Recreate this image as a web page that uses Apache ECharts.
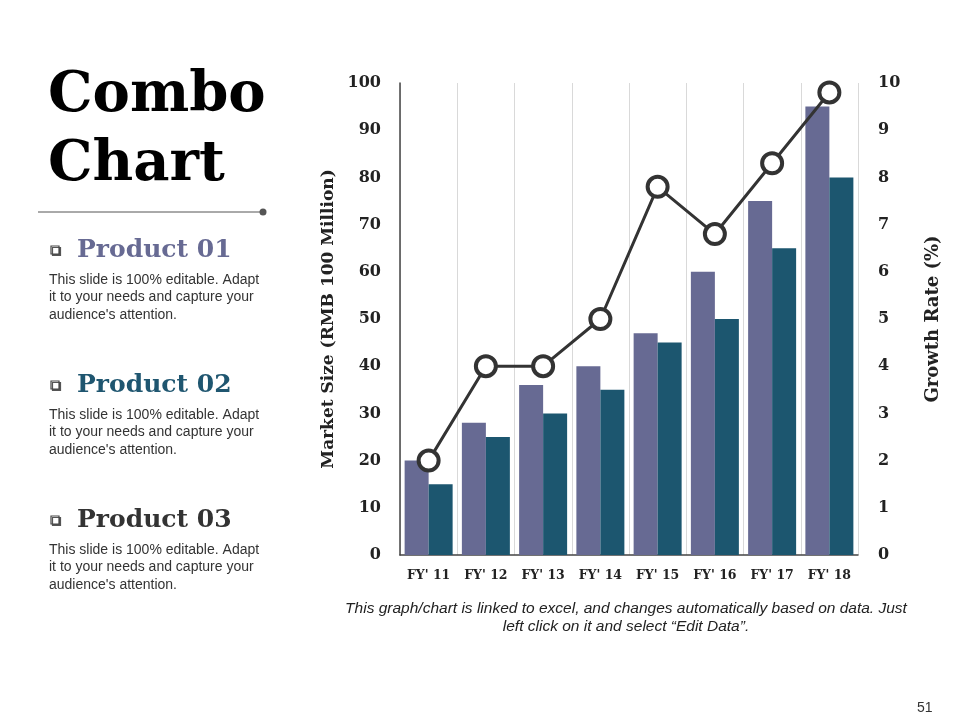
<!DOCTYPE html>
<html>
<head>
<meta charset="utf-8">
<script src="https://cdn.jsdelivr.net/npm/echarts@6/dist/echarts.min.js"></script>
<style>
  html, body { margin: 0; padding: 0; background: #fff; }
  #chart { width: 960px; height: 720px; }
</style>
</head>
<body>
<div id="chart"></div>
<script>
var categories = ["FY' 11", "FY' 12", "FY' 13", "FY' 14", "FY' 15", "FY' 16", "FY' 17", "FY' 18"];
var product01 = [20, 28, 36, 40, 47, 60, 75, 95];
var product02 = [15, 25, 30, 35, 45, 50, 65, 80];
var growthRate = [2, 4, 4, 5, 7.8, 6.8, 8.3, 9.8];

var serif = 'DejaVu Serif';
var sans = 'Liberation Sans';
var body = 'This slide is 100% editable. Adapt\nit to your needs and capture your\naudience\'s attention.';

function productBlock(y, title, color) {
  return [
    {
      type: 'rect', x: 51, y: y - 4, shape: { width: 8, height: 8 },
      style: { fill: '#fff', stroke: '#444', lineWidth: 1.2, shadowColor: '#555', shadowOffsetX: 1.5, shadowOffsetY: 1.5 }
    },
    {
      type: 'text', x: 77, y: y,
      style: { text: title, font: 'bold 25px ' + serif, fill: color, verticalAlign: 'middle' }
    },
    {
      type: 'text', x: 49, y: y + 21,
      style: { text: body, font: '14px ' + sans, fill: '#333', lineHeight: 17.5 }
    }
  ];
}

var myChart = echarts.init(document.getElementById('chart'));
var option = {
  backgroundColor: '#fff',
  animation: false,
  grid: { left: 400, right: 102, top: 83, bottom: 165 },
  graphic: [
    { type: 'text', x: 48, y: 124, style: { text: 'Combo', font: 'bold 56px ' + serif, fill: '#000', verticalAlign: 'bottom' } },
    { type: 'text', x: 48, y: 193, style: { text: 'Chart', font: 'bold 56px ' + serif, fill: '#000', verticalAlign: 'bottom' } },
    { type: 'line', shape: { x1: 38, y1: 212, x2: 262, y2: 212 }, style: { stroke: '#555', lineWidth: 1 } },
    { type: 'circle', shape: { cx: 263, cy: 212, r: 3.5 }, style: { fill: '#555' } }
  ].concat(
    productBlock(250, 'Product 01', '#676a93'),
    productBlock(385, 'Product 02', '#1f5670'),
    productBlock(520, 'Product 03', '#333'),
    [
      {
        type: 'text', x: 626, y: 600,
        style: {
          text: 'This graph/chart is linked to excel, and changes automatically based on data. Just\nleft click on it and select \u201cEdit Data\u201d.',
          font: 'italic 15.5px ' + sans, fill: '#222', align: 'center', lineHeight: 18
        }
      },
      { type: 'text', x: 917, y: 701, style: { text: '51', font: '14px ' + sans, fill: '#333' } }
    ]
  ),
  xAxis: {
    type: 'category',
    data: categories,
    axisLine: { lineStyle: { color: '#444', width: 1.5 } },
    axisTick: { show: false },
    axisLabel: { interval: 0, color: '#222', fontFamily: serif, fontWeight: 'bold', fontSize: 12.5, margin: 14 },
    splitLine: { show: true, interval: 0, lineStyle: { color: '#d9d9d9', width: 1 } }
  },
  yAxis: [
    {
      type: 'value', min: 0, max: 100, interval: 10,
      name: 'Market Size (RMB 100 Million)',
      nameLocation: 'middle', nameGap: 63, nameRotate: 90,
      nameTextStyle: { color: '#222', fontFamily: serif, fontWeight: 'bold', fontSize: 17 },
      axisLine: { show: true, lineStyle: { color: '#444', width: 1.5 } },
      axisTick: { show: false },
      axisLabel: { color: '#222', fontFamily: serif, fontWeight: 'bold', fontSize: 16, margin: 19 },
      splitLine: { show: false }
    },
    {
      type: 'value', min: 0, max: 10, interval: 1,
      name: 'Growth Rate (%)',
      nameLocation: 'middle', nameGap: 66, nameRotate: 90,
      nameTextStyle: { color: '#222', fontFamily: serif, fontWeight: 'bold', fontSize: 18 },
      axisLine: { show: false },
      axisTick: { show: false },
      axisLabel: { color: '#222', fontFamily: serif, fontWeight: 'bold', fontSize: 16, margin: 20 },
      splitLine: { show: false }
    }
  ],
  series: [
    {
      name: 'Product 01', type: 'bar', data: product01,
      barWidth: 24, barGap: '0%',
      itemStyle: { color: '#676a93' }
    },
    {
      name: 'Product 02', type: 'bar', data: product02,
      barWidth: 24,
      itemStyle: { color: '#1c566f' }
    },
    {
      name: 'Growth Rate', type: 'line', yAxisIndex: 1, data: growthRate,
      symbol: 'circle', symbolSize: 20,
      lineStyle: { color: '#333', width: 3 },
      itemStyle: { color: '#fff', borderColor: '#333', borderWidth: 4 },
      z: 5
    }
  ]
};
myChart.setOption(option);
</script>
</body>
</html>
